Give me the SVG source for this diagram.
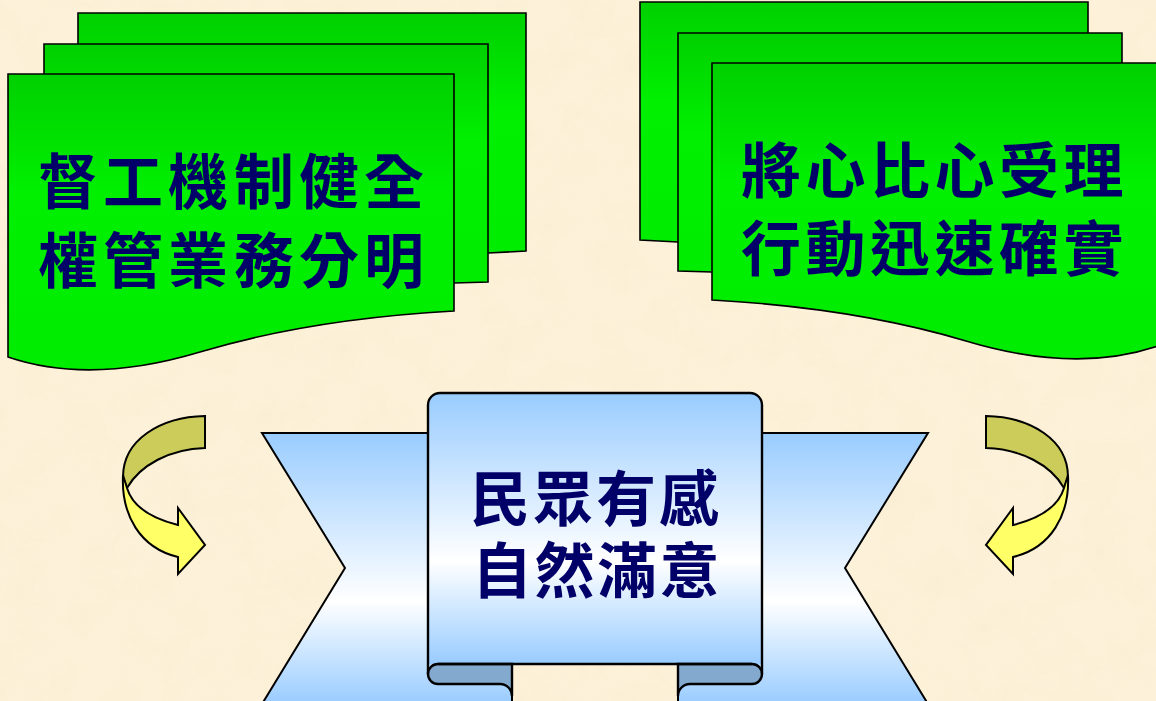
<svg xmlns="http://www.w3.org/2000/svg" width="1156" height="701" viewBox="0 0 1156 701">
<defs>
<linearGradient id="gGreen" x1="0" y1="0" x2="0" y2="1">
<stop offset="0" stop-color="#00D000"/>
<stop offset="0.4" stop-color="#00F000"/>
<stop offset="1" stop-color="#00EC00"/>
</linearGradient>
<linearGradient id="gBlue" x1="0" y1="0" x2="0" y2="1">
<stop offset="0" stop-color="#99CCFF"/>
<stop offset="0.62" stop-color="#FFFFFF"/>
<stop offset="1" stop-color="#99CCFF"/>
</linearGradient>
<filter id="paper" x="0" y="0" width="100%" height="100%">
<feTurbulence type="fractalNoise" baseFrequency="0.025" numOctaves="3" seed="7" result="n"/>
<feColorMatrix in="n" type="matrix" values="0 0 0 0 0.93  0 0 0 0 0.82  0 0 0 0 0.62  0 0 0 -1.6 1.0"/>
</filter>
<style>
.doc{fill:url(#gGreen);stroke:#000;stroke-width:1.6;stroke-linejoin:miter}
.txt{font-family:"Noto Sans CJK TC","Noto Sans CJK SC",sans-serif;font-weight:700;font-size:60px;fill:#000068}
.rb{fill:url(#gBlue);stroke:#000;stroke-width:2;stroke-linejoin:miter}
.fold{fill:#84A9CF;stroke:#000;stroke-width:2.4}
.ol{fill:none;stroke:#000;stroke-width:2.4}
.back{fill:#CCCC5A;stroke:#000;stroke-width:2}
.front{fill:#FFFF66;stroke:#000;stroke-width:2;stroke-linejoin:miter}
</style>
<g id="stack">
<path class="doc" d="M78,13 H526 V251 L488,253 L78,262 Z"/>
<path class="doc" d="M44,44 H488 V282 L454,283 L44,290 Z"/>
<path class="doc" d="M8,74 H454 V311 Q310,319 200,352 Q90,385 8,357 Z"/>
</g>
<g id="curl">
<path class="back" d="M205,416 C160,417 123,440 123,477 L127,488 C140,465 170,449 205,448 Z"/>
<path class="front" d="M123,475 C121,515 140,548 178,557 L178,574 L205,545 L178,508 L178,525 C150,518 132,505 127,488 Z"/>
</g>
</defs>
<rect id="bg" x="0" y="0" width="1156" height="701" fill="#FDF2D9"/>
<rect x="0" y="0" width="1156" height="701" filter="url(#paper)" opacity="0.5"/>

<g id="node-left">
<use href="#stack"/>
<text class="txt" x="38 103 168 234 299 364" y="204">督工機制健全</text>
<text class="txt" x="38 103 168 234 299 364" y="283">權管業務分明</text>
</g>

<g id="node-right">
<use href="#stack" transform="translate(1166,-11) scale(-1,1)"/>
<text class="txt" x="741 805.5 870 934.5 999 1063.5" y="193">將心比心受理</text>
<text class="txt" x="741 805.5 870 934.5 999 1063.5" y="271">行動迅速確實</text>
</g>

<g id="node-center">
<path class="rb" d="M262,433 L512,433 L512,704 L262,704 L345,568 Z"/>
<path class="rb" d="M928,433 L678,433 L678,704 L928,704 L845,568 Z"/>
<path d="M428,664 V405 A12,12 0 0 1 440,393 H750 A12,12 0 0 1 762,405 V664 Z" fill="url(#gBlue)"/>
<path class="fold" d="M438,664 H512 V696 A12,12 0 0 0 500,684 H438 A10,10 0 0 1 438,664 Z"/>
<path class="fold" d="M752,664 H678 V696 A12,12 0 0 1 690,684 H752 A10,10 0 0 0 752,664 Z"/>
<path class="ol" d="M428,674 V405 A12,12 0 0 1 440,393 H750 A12,12 0 0 1 762,405 V674 M438,664 H752"/>
<text class="txt" x="470 533 596 659" y="521">民眾有感</text>
<text class="txt" x="472 534.5 597 659.5" y="593">自然滿意</text>
</g>

<g id="connectors">
<use href="#curl"/>
<use href="#curl" transform="translate(1191,0) scale(-1,1)"/>
</g>
</svg>
